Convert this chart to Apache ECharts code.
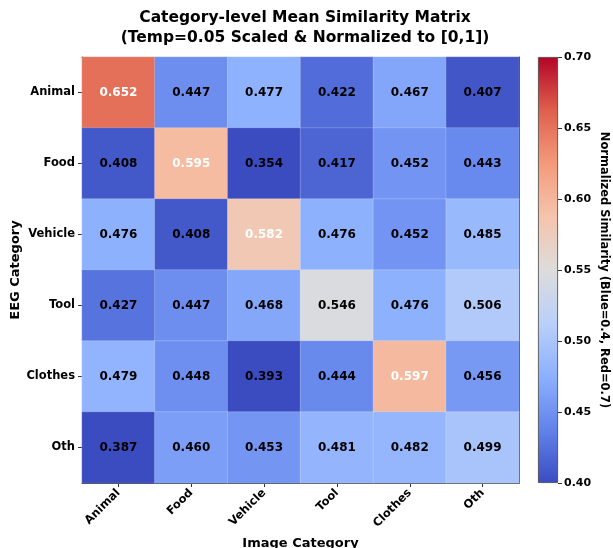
<!DOCTYPE html>
<html>
<head>
<meta charset="utf-8">
<script src="https://cdn.jsdelivr.net/npm/echarts@6/dist/echarts.min.js"></script>
<style>
  html, body { margin: 0; padding: 0; background: #ffffff; }
  #chart { width: 613px; height: 548px; }
</style>
</head>
<body>
<div id="chart"></div>
<script>
// Category labels (columns = image category, rows = EEG category)
const imageCategories = ['Animal', 'Food', 'Vehicle', 'Tool', 'Clothes', 'Oth'];
const eegCategories = ['Animal', 'Food', 'Vehicle', 'Tool', 'Clothes', 'Oth'];

// Mean similarity per EEG-category row
const rowAnimal  = [0.652, 0.447, 0.477, 0.422, 0.467, 0.407];
const rowFood    = [0.408, 0.595, 0.354, 0.417, 0.452, 0.443];
const rowVehicle = [0.476, 0.408, 0.582, 0.476, 0.452, 0.485];
const rowTool    = [0.427, 0.447, 0.468, 0.546, 0.476, 0.506];
const rowClothes = [0.479, 0.448, 0.393, 0.444, 0.597, 0.456];
const rowOth     = [0.387, 0.460, 0.453, 0.481, 0.482, 0.499];
const matrixRows = [rowAnimal, rowFood, rowVehicle, rowTool, rowClothes, rowOth];

// Colour scale limits and colourbar ticks
const scaleMin = 0.4;
const scaleMax = 0.7;
const tickStep = 0.05;

// coolwarm colour stops (low -> high)
const coolwarm = ['#3b4cc0', '#6282ea', '#8db0fe', '#b9d0f9', '#dddcdc',
                  '#f5c4ac', '#f49a7b', '#de604d', '#b40426'];

const FONT = '"DejaVu Sans", Verdana, sans-serif';

const cells = [];
matrixRows.forEach((row, r) => {
  row.forEach((v, c) => {
    const light = v > 0.575;
    cells.push({
      value: [c, r, v],
      label: { color: light ? '#ffffff' : '#000000' }
    });
  });
});

const chart = echarts.init(document.getElementById('chart'), null, { renderer: 'canvas' });

const gradientStops = coolwarm.map((col, i) => ({ offset: i / (coolwarm.length - 1), color: col }));

chart.setOption({
  animation: false,
  backgroundColor: '#ffffff',
  textStyle: { fontFamily: FONT },
  title: {
    text: 'Category-level Mean Similarity Matrix\n(Temp=0.05 Scaled & Normalized to [0,1])',
    left: 300,
    textAlign: 'center',
    top: 3,
    textStyle: { fontFamily: FONT, fontWeight: 'bold', fontSize: 15.5, lineHeight: 20, color: '#000' }
  },
  grid: [
    { left: 82, top: 57, width: 437, height: 426, outerBoundsMode: 'none', containLabel: false },
    { left: 538, top: 57, width: 20, height: 426, outerBoundsMode: 'none', containLabel: false }
  ],
  xAxis: [
    {
      type: 'category', gridIndex: 0, data: imageCategories, position: 'bottom',
      name: 'Image Category', nameLocation: 'middle', nameGap: 49,
      nameTextStyle: { fontFamily: FONT, fontWeight: 'bold', fontSize: 13, color: '#000' },
      axisLine: { show: true, lineStyle: { color: '#333', width: 1 } },
      axisTick: { show: true, alignWithLabel: true, length: 4, lineStyle: { color: '#333' } },
      axisLabel: { rotate: 45, margin: 8, fontFamily: FONT, fontWeight: 'bold', fontSize: 11.5, color: '#000' },
      splitLine: { show: false }
    },
    {
      type: 'category', gridIndex: 0, data: imageCategories, position: 'top',
      axisLine: { show: true, lineStyle: { color: '#333', width: 1 } },
      axisTick: { show: false }, axisLabel: { show: false }
    },
    {
      type: 'category', gridIndex: 1, data: ['cb'], show: false
    }
  ],
  yAxis: [
    {
      type: 'category', gridIndex: 0, data: eegCategories, inverse: true, position: 'left',
      name: 'EEG Category', nameLocation: 'middle', nameGap: 60, nameRotate: 90,
      nameMoveOverlap: false,
      nameTextStyle: { fontFamily: FONT, fontWeight: 'bold', fontSize: 13, color: '#000' },
      axisLine: { show: true, lineStyle: { color: '#333', width: 1 } },
      axisTick: { show: true, alignWithLabel: true, length: 4, lineStyle: { color: '#333' } },
      axisLabel: { margin: 7, fontFamily: FONT, fontWeight: 'bold', fontSize: 11.5, color: '#000' },
      splitLine: { show: false }
    },
    {
      type: 'category', gridIndex: 0, data: eegCategories, inverse: true, position: 'right',
      axisLine: { show: true, lineStyle: { color: '#333', width: 1 } },
      axisTick: { show: false }, axisLabel: { show: false }
    },
    {
      type: 'value', gridIndex: 1, position: 'right',
      min: scaleMin, max: scaleMax, interval: tickStep,
      name: 'Normalized Similarity (Blue=0.4, Red=0.7)', nameLocation: 'middle',
      nameRotate: -90, nameGap: 40,
      nameTextStyle: { fontFamily: FONT, fontWeight: 'bold', fontSize: 11.5, color: '#000' },
      axisLine: { show: false },
      axisTick: { show: true, length: 4, lineStyle: { color: '#333' } },
      axisLabel: { margin: 6, fontFamily: FONT, fontWeight: 'bold', fontSize: 11, color: '#000',
                   formatter: v => v.toFixed(2) },
      splitLine: { show: false }
    }
  ],
  visualMap: {
    show: false,
    type: 'continuous',
    seriesIndex: 0,
    dimension: 2,
    min: scaleMin,
    max: scaleMax,
    inRange: { color: coolwarm }
  },
  series: [
    {
      type: 'heatmap',
      xAxisIndex: 0, yAxisIndex: 0,
      data: cells,
      itemStyle: { borderColor: 'rgba(255,255,255,0.25)', borderWidth: 0.8 },
      label: {
        show: true,
        fontFamily: FONT, fontWeight: 'bold', fontSize: 12,
        formatter: p => p.value[2].toFixed(3)
      },
      emphasis: { disabled: true }
    },
    {
      type: 'bar', xAxisIndex: 2, yAxisIndex: 2, stack: 'cb',
      barWidth: '100%', silent: true,
      itemStyle: { color: 'rgba(0,0,0,0)' },
      data: [scaleMin]
    },
    {
      type: 'bar', xAxisIndex: 2, yAxisIndex: 2, stack: 'cb',
      barWidth: '100%', silent: true,
      itemStyle: {
        color: new echarts.graphic.LinearGradient(0, 1, 0, 0, gradientStops),
        borderColor: '#444', borderWidth: 0.8
      },
      data: [scaleMax - scaleMin]
    }
  ]
});
</script>
</body>
</html>
